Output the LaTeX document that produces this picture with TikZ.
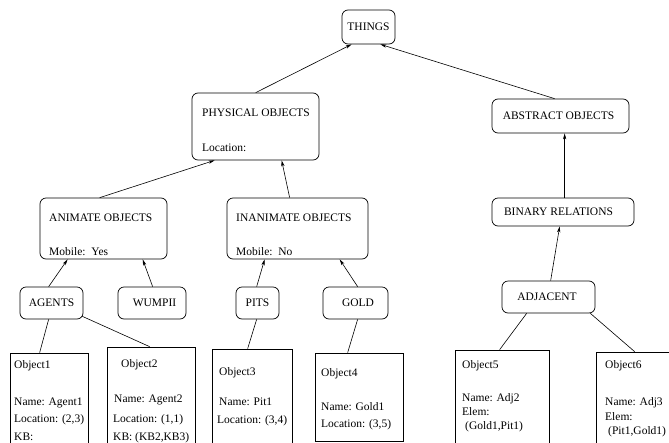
\documentclass[tikz,border=0pt]{standalone}
\usepackage{fontspec}
\setmainfont{Liberation Serif}
\usetikzlibrary{arrows.meta}
\begin{document}
\begin{tikzpicture}[x=1pt,y=-1pt,
  every node/.style={font=\fontsize{11.5}{13}\selectfont},
  cls/.style={draw, line width=0.7pt, rounded corners=6pt, inner sep=0pt},
  obj/.style={draw, line width=0.7pt, inner sep=0pt},
  txt/.style={anchor=base west, inner sep=0pt},
  isa/.style={line width=0.6pt, -{Stealth[length=6pt,width=3.2pt,inset=1.5pt]}},
  inst/.style={line width=0.6pt}]
\clip (0,0) rectangle (669,442);
\useasboundingbox (0,0) rectangle (669,442);
% class boxes
\node[cls, minimum width=53pt, minimum height=34pt] (things) at (368.5,27) {THINGS};
\node[cls, minimum width=127pt, minimum height=67pt] (phys) at (255.5,126.5) {};
\node[cls, minimum width=137pt, minimum height=34pt] (abstr) at (560.5,116) {};
\node[cls, minimum width=127pt, minimum height=61pt] (anim) at (103.5,228.5) {};
\node[cls, minimum width=141pt, minimum height=61pt] (inanim) at (297.5,228.5) {};
\node[cls, minimum width=142pt, minimum height=28pt] (binrel) at (563,212) {};
\node[cls, minimum width=63pt, minimum height=32pt] (agents) at (51.5,303) {AGENTS};
\node[cls, minimum width=68pt, minimum height=32pt] (wumpii) at (152,303) {};
\node[cls, minimum width=43pt, minimum height=32pt] (pits) at (257.5,303) {PITS};
\node[cls, minimum width=65pt, minimum height=32pt] (gold) at (355.5,303) {};
\node[cls, minimum width=93pt, minimum height=32pt] (adjacent) at (548.5,297) {};
% single-line labels slightly off-centre
\node (abstrT) at (558.5,116) {ABSTRACT OBJECTS};
\node (binrelT) at (558.5,212) {BINARY RELATIONS};
\node (wumpiiT) at (154.5,303) {WUMPII};
\node (goldT) at (358,303) {GOLD};
\node (adjT) at (547,297) {ADJACENT};
% multi-line labels
\node[txt] (physT) at (202,116) {PHYSICAL OBJECTS};
\node[txt] (physL) at (202,151) {Location:};
\node[txt] (animT) at (49,221) {ANIMATE OBJECTS};
\node[txt] (animL) at (49,255) {Mobile:\ \ Yes};
\node[txt] (inanimT) at (236,221) {INANIMATE OBJECTS};
\node[txt] (inanimL) at (236,255) {Mobile:\ \ No};
% object boxes
\node[obj, minimum width=78pt, minimum height=107pt] (obj1) at (49,406.5) {};
\node[obj, minimum width=88pt, minimum height=113pt] (obj2) at (151,403.5) {};
\node[obj, minimum width=80pt, minimum height=111pt] (obj3) at (252,404.5) {};
\node[obj, minimum width=88pt, minimum height=88pt] (obj4) at (359,397) {};
\node[obj, minimum width=94pt, minimum height=110pt] (obj5) at (502,405) {};
\node[obj, minimum width=104pt, minimum height=108pt] (obj6) at (648,406) {};
% object texts
\node[txt] (o1a) at (14,368) {Object1};
\node[txt] (o1b) at (14,405) {Name: Agent1};
\node[txt] (o1c) at (14,422) {Location: (2,3)};
\node[txt] (o1d) at (14,440) {KB:};
\node[txt] (o2a) at (121,367) {Object2};
\node[txt] (o2b) at (114,402) {Name: Agent2};
\node[txt] (o2c) at (113,422) {Location: (1,1)};
\node[txt] (o2d) at (113,440) {KB: (KB2,KB3)};
\node[txt] (o3a) at (219,375) {Object3};
\node[txt] (o3b) at (219,405) {Name: Pit1};
\node[txt] (o3c) at (217,423) {Location: (3,4)};
\node[txt] (o4a) at (321,376) {Object4};
\node[txt] (o4b) at (321,410) {Name: Gold1};
\node[txt] (o4c) at (321,427) {Location: (3,5)};
\node[txt] (o5a) at (462,368) {Object5};
\node[txt] (o5b) at (462,401) {Name: Adj2};
\node[txt] (o5c) at (462,415) {Elem:};
\node[txt] (o5d) at (465,429) {(Gold1,Pit1)};
\node[txt] (o6a) at (605,368) {Object6};
\node[txt] (o6b) at (605,405) {Name: Adj3};
\node[txt] (o6c) at (605,420) {Elem:};
\node[txt] (o6d) at (608,434) {(Pit1,Gold1)};
% is-a arrows
\draw[isa] ([xshift=64pt]phys.north west) -- ([xshift=10pt]things.south west);
\draw[isa] ([xshift=63pt]abstr.north west) -- ([xshift=-15pt]things.south east);
\draw[isa] ([xshift=60pt]anim.north west) -- ([xshift=23pt]phys.south west);
\draw[isa] ([xshift=63pt]inanim.north west) -- ([xshift=90pt]phys.south west);
\draw[isa] ([xshift=73pt]binrel.north west) -- ([xshift=73pt]abstr.south west);
\draw[isa] ([xshift=29pt]agents.north west) -- ([xshift=28pt]anim.south west);
\draw[isa] ([xshift=35pt]wumpii.north west) -- ([xshift=103pt]anim.south west);
\draw[isa] ([xshift=21pt]pits.north west) -- ([xshift=38pt]inanim.south west);
\draw[isa] ([xshift=35pt]gold.north west) -- ([xshift=113pt]inanim.south west);
\draw[isa] ([xshift=49pt]adjacent.north west) -- ([xshift=68pt]binrel.south west);
% instance lines
\draw[inst] ([xshift=29pt]agents.south west) -- ([xshift=30pt]obj1.north west);
\draw[inst] ([xshift=-1pt,yshift=3pt]agents.south east) -- ([xshift=43pt]obj2.north west);
\draw[inst] ([xshift=21pt]pits.south west) -- ([xshift=36pt]obj3.north west);
\draw[inst] ([xshift=35pt]gold.south west) -- ([xshift=33pt]obj4.north west);
\draw[inst] ([xshift=25pt]adjacent.south west) -- ([xshift=45pt]obj5.north west);
\draw[inst] ([xshift=-5pt]adjacent.south east) -- ([xshift=39pt]obj6.north west);
\end{tikzpicture}
\end{document}
